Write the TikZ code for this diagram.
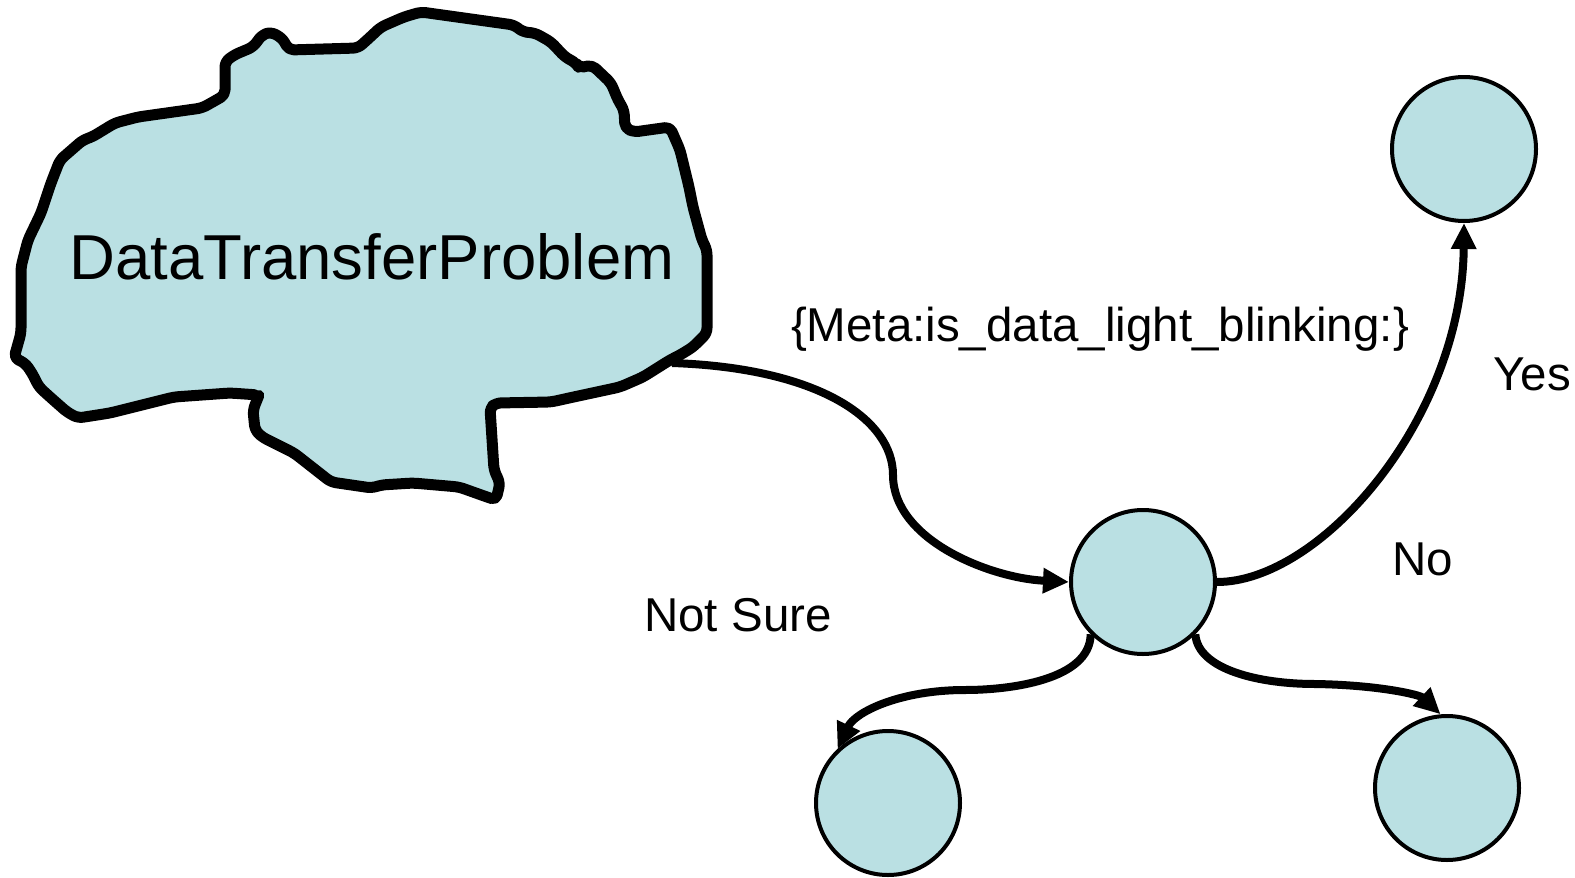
\documentclass[tikz,border=0pt]{standalone}
\usepackage{fontspec}
\setmainfont{Liberation Sans}
\usetikzlibrary{arrows.meta}
\definecolor{statefill}{RGB}{186,224,227}
\tikzset{
  state/.style={circle, draw=black, fill=statefill, line width=4pt, minimum size=144pt, inner sep=0pt},
  cloudline/.style={draw=black, fill=statefill, line width=11pt, rounded corners=5pt, line join=round},
  conn/.style={draw=black, line width=8pt, -{Triangle[length=26pt,width=24pt]}},
  lbl/.style={anchor=base, inner sep=0pt, font=\fontsize{47.5}{57}\selectfont},
  title/.style={anchor=base, inner sep=0pt, font=\fontsize{63.5}{75}\selectfont},
}
\begin{document}
\begin{tikzpicture}[x=1pt,y=-1pt]
\useasboundingbox (0,0) rectangle (1575,878);

% problem cloud
\path[cloudline] (421,12) -- (514,25) -- (523,32) -- (535,33) -- (551,42) -- (565,57)
  -- (576,63) -- (579,68) -- (592,65) -- (611,83) -- (618,100) -- (624,110) -- (625,128)
  -- (634,132) -- (670,127) -- (680,150) -- (689,187) -- (693,207) -- (702,240)
  -- (707,250) -- (707,333) -- (693,347) -- (680,355) -- (670,360) -- (643,377)
  -- (620,387) -- (569,398) -- (551,402) -- (496,403) -- (490,408) -- (494,470)
  -- (500,483) -- (496,500) -- (487,497) -- (459,487) -- (413,483) -- (381,485)
  -- (372,488) -- (331,482) -- (294,453) -- (262,437) -- (255,430) -- (253,410)
  -- (257,400) -- (259,395) -- (230,393) -- (174,397) -- (110,413) -- (78,418)
  -- (67,412) -- (50,397) -- (39,387) -- (32,373) -- (25,363) -- (14,358) -- (21,333)
  -- (21,267) -- (28,240) -- (41,213) -- (51,183) -- (60,160) -- (83,140) -- (92,137)
  -- (115,123) -- (138,117) -- (202,108) -- (211,103) -- (225,95) -- (225,62)
  -- (234,55) -- (253,47) -- (262,35) -- (271,32) -- (282,38) -- (289,50) -- (358,48)
  -- (367,40) -- (381,27) -- (404,17) -- cycle;
\coordinate (cloudout) at (672,363);
\node[title] (prob) at (372,279) {DataTransferProblem};

% states
\node[state] (q) at (1143,582) {};
\node[state] (yes) at (1464,149) {};
\node[state] (notsure) at (888,803) {};
\node[state] (no) at (1447,788) {};

% transitions
\draw[conn] (cloudout) .. controls (820,368) and (893,420) .. (893,475)
  .. controls (893,540) and (990,578) .. (q.180);
\draw[conn] (q.0) .. controls (1320,582) and (1462,420) .. (yes.-90);
\draw[conn] (q.-135) .. controls (1090,680) and (1010,690) .. (965,690)
  .. controls (900,690) and (855,712) .. (notsure.133);
\draw[conn] (q.-45) .. controls (1198,670) and (1260,684) .. (1315,684)
  .. controls (1380,685) and (1420,695) .. (no.95);

% labels
\node[lbl] (meta) at (1100,341) {\{Meta:is\_data\_light\_blinking:\}};
\node[lbl] (lyes) at (1532,390) {Yes};
\node[lbl] (lno) at (1423,575) {No};
\node[lbl] (lnotsure) at (738,631) {Not Sure};
\end{tikzpicture}
\end{document}
